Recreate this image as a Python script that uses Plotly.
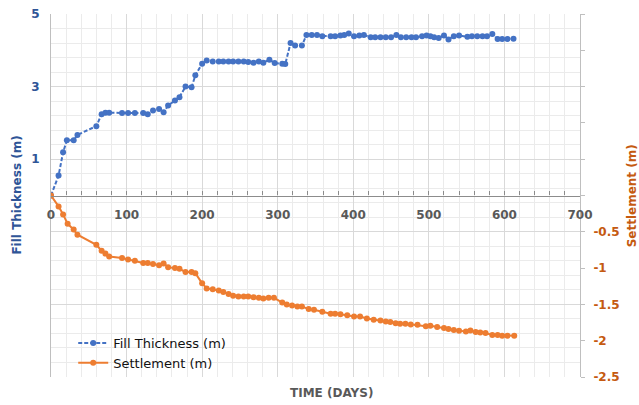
import numpy as np
import plotly.graph_objects as go

# ---- data ----
fill_days = [0, 10, 16, 21, 30, 35, 60, 67, 72, 77, 94, 102, 111, 122, 128, 135, 143, 149, 155,
             164, 170, 178, 186, 191, 200, 206, 214, 222, 228, 235, 241, 248, 255, 261, 268, 275,
             281, 289, 296, 306, 310, 317, 323, 332, 338, 345, 352, 359, 370, 376, 383, 388, 394,
             401, 408, 414, 423, 429, 436, 443, 450, 457, 463, 470, 477, 483, 491, 497, 502, 507,
             513, 520, 526, 533, 540, 551, 557, 564, 571, 577, 584, 591, 597, 604, 612]
fill_thickness = [0, 0.55, 1.19, 1.52, 1.52, 1.67, 1.91, 2.24, 2.28, 2.28, 2.27, 2.27, 2.27, 2.27,
                  2.24, 2.34, 2.38, 2.29, 2.48, 2.62, 2.71, 3.0, 2.98, 3.31, 3.63, 3.72, 3.69, 3.69,
                  3.69, 3.69, 3.69, 3.69, 3.69, 3.68, 3.66, 3.69, 3.66, 3.74, 3.65, 3.63, 3.62, 4.2,
                  4.13, 4.13, 4.42, 4.42, 4.42, 4.39, 4.39, 4.39, 4.41, 4.42, 4.46, 4.39, 4.41, 4.42,
                  4.36, 4.36, 4.36, 4.36, 4.36, 4.42, 4.36, 4.36, 4.36, 4.36, 4.39, 4.41, 4.39, 4.36,
                  4.34, 4.41, 4.30, 4.39, 4.41, 4.37, 4.39, 4.39, 4.39, 4.39, 4.45, 4.31, 4.31, 4.31,
                  4.32]

settle_days = [0, 10, 16, 22, 30, 35, 60, 67, 72, 77, 94, 102, 111, 122, 128, 135, 143, 149, 155,
               164, 170, 178, 186, 191, 200, 206, 214, 222, 228, 235, 241, 248, 255, 261, 268, 275,
               281, 288, 295, 306, 312, 319, 326, 332, 341, 348, 359, 370, 376, 383, 392, 401, 409,
               418, 427, 436, 443, 449, 456, 462, 469, 476, 485, 496, 502, 511, 520, 526, 533, 540,
               549, 555, 562, 568, 575, 584, 591, 597, 604, 613]
settlement = [0, -0.15, -0.26, -0.39, -0.47, -0.54, -0.68, -0.76, -0.80, -0.84, -0.86, -0.88, -0.90,
              -0.93, -0.93, -0.945, -0.96, -0.935, -0.99, -1.0, -1.01, -1.055, -1.055, -1.07, -1.21,
              -1.28, -1.29, -1.31, -1.33, -1.356, -1.38, -1.39, -1.39, -1.39, -1.40, -1.41, -1.42,
              -1.41, -1.41, -1.475, -1.50, -1.515, -1.53, -1.53, -1.565, -1.575, -1.60, -1.63,
              -1.63, -1.635, -1.65, -1.667, -1.667, -1.694, -1.712, -1.722, -1.736, -1.744, -1.758,
              -1.767, -1.767, -1.777, -1.781, -1.80, -1.795, -1.813, -1.826, -1.84, -1.853, -1.863,
              -1.873, -1.859, -1.881, -1.886, -1.895, -1.922, -1.922, -1.932, -1.932, -1.932]

left_ticks = [-5, -3, -1, 1, 3, 5]
left_labels = ["", "", "", "1", "3", "5"]
right_ticks = [-2.5, -2, -1.5, -1, -0.5, 0, 0.5, 1, 1.5, 2, 2.5]
right_labels = ["-2.5", "-2", "-1.5", "-1", "-0.5", "", "", "", "", "", ""]

FONT = "DejaVu Sans"
BLUE = "#4472C4"
ORANGE = "#ED7D31"
BLUE_TXT = "#2F5597"
ORANGE_TXT = "#C55A11"
GRAY_TXT = "#595959"

fig = go.Figure()
fig.add_trace(go.Scatter(
    x=fill_days, y=fill_thickness, name="Fill Thickness (m)", mode="lines+markers",
    line=dict(color=BLUE, width=2, dash="4px,2px"), marker=dict(color=BLUE, size=6),
    xaxis="x", yaxis="y"))
fig.add_trace(go.Scatter(
    x=settle_days, y=settlement, name="Settlement (m)", mode="lines+markers",
    line=dict(color=ORANGE, width=2), marker=dict(color=ORANGE, size=6),
    xaxis="x", yaxis="y2"))

fig.update_layout(
    width=639, height=405,
    margin=dict(l=51, r=59, t=14, b=28, autoexpand=False),
    paper_bgcolor="white", plot_bgcolor="white",
    font=dict(family=FONT, size=11, color=GRAY_TXT),
    showlegend=True,
    legend=dict(x=0.042, y=0.135, xanchor="left", yanchor="top", bgcolor="rgba(0,0,0,0)",
                font=dict(family=FONT, size=13, color="#111111"), itemwidth=30),
    xaxis=dict(
        range=[0, 700], dtick=100, tick0=0, anchor="free", position=0.5,
        showline=True, linecolor="#8c8c8c", linewidth=1.3,
        ticks="inside", ticklen=4, tickcolor="#8c8c8c", ticklabelstandoff=8,
        tickfont=dict(family=FONT, size=12, color=GRAY_TXT, weight="bold"),
        showgrid=True, gridcolor="#d9d9d9", gridwidth=1, zeroline=False,
        minor=dict(dtick=20, tick0=0, showgrid=True, gridcolor="#ebebeb", ticks="inside",
                   ticklen=4, tickcolor="#8c8c8c"),
        automargin=False,
    ),
    yaxis=dict(
        range=[-5, 5], tickmode="array", tickvals=left_ticks, ticktext=left_labels,
        showline=True, linecolor="#bfbfbf", linewidth=1, ticks="", ticklabelstandoff=8,
        tickfont=dict(family=FONT, size=12, color=BLUE_TXT, weight="bold"),
        showgrid=True, gridcolor="#d9d9d9", gridwidth=1, zeroline=False,
        minor=dict(tickmode="array", tickvals=list(np.round(np.arange(-5, 5.01, 0.4), 2)),
                   showgrid=True, gridcolor="#ebebeb"),
        automargin=False,
    ),
    yaxis2=dict(
        range=[-2.5, 2.5], overlaying="y", side="right", anchor="x",
        tickmode="array", tickvals=right_ticks, ticktext=right_labels,
        showline=True, linecolor="#bfbfbf", linewidth=1, ticks="outside", ticklen=4,
        tickcolor="#bfbfbf", ticklabelstandoff=6,
        tickfont=dict(family=FONT, size=12, color=ORANGE_TXT, weight="bold"),
        showgrid=False, zeroline=False,
        automargin=False,
    ),
    annotations=[
        dict(text="TIME (DAYS)", xref="paper", yref="paper", x=0.531, y=-0.044,
             xanchor="center", yanchor="middle", showarrow=False,
             font=dict(family=FONT, size=12, color=GRAY_TXT, weight="bold")),
        dict(text="Fill Thickness (m)", xref="paper", yref="paper", x=-0.066, y=0.5,
             xanchor="center", yanchor="middle", showarrow=False, textangle=-90,
             font=dict(family=FONT, size=12, color=BLUE_TXT, weight="bold")),
        dict(text="Settlement (m)", xref="paper", yref="paper", x=1.098, y=0.5,
             xanchor="center", yanchor="middle", showarrow=False, textangle=-90,
             font=dict(family=FONT, size=12, color=ORANGE_TXT, weight="bold")),
    ],
)

fig.write_html("out.html", config={"displayModeBar": False},
               post_script="document.body.style.margin='0';")
